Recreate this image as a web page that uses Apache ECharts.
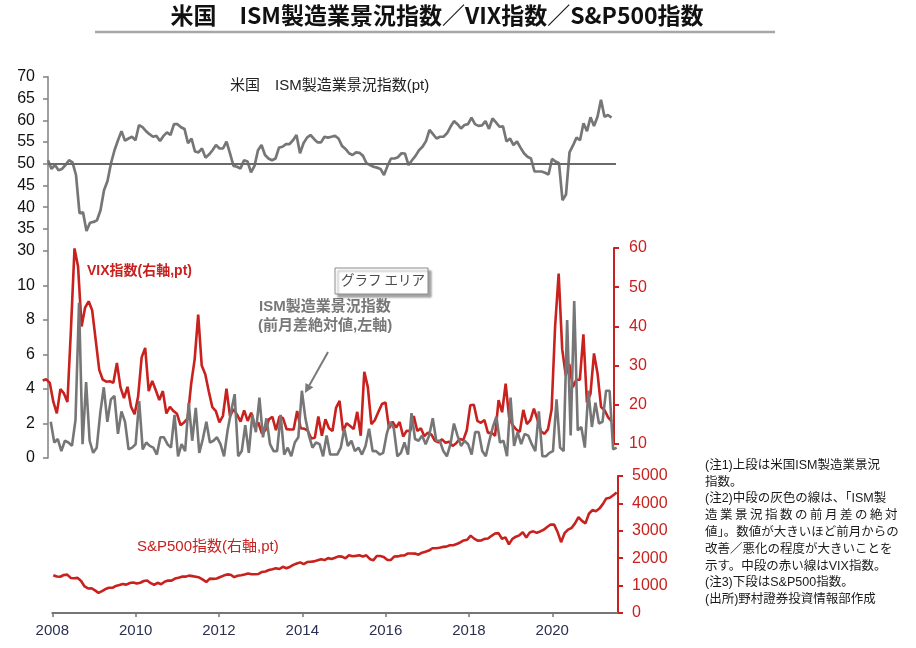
<!DOCTYPE html>
<html><head><meta charset="utf-8">
<script src="https://cdn.jsdelivr.net/npm/echarts@6/dist/echarts.min.js"></script>
<style>html,body{margin:0;padding:0;background:#fff}#c{width:916px;height:648px}</style>
</head><body><div id="c"></div>
<script>
// Monthly data, first month = 2008-01
const startMonth = '2008-01';
const yearLabels = ['2008','2010','2012','2014','2016','2018','2020'];
const yearTickMonths = [0,24,48,72,96,120,144];

// ISM manufacturing index (pt), 2008-01 .. 2021-06
const ismIndex = [
 50.8,48.8,49.7,48.5,48.8,49.7,50.8,50.3,47.4,38.6,38.8,34.5,
 36.4,36.6,37.0,39.3,43.9,46.0,50.1,53.1,55.4,57.5,55.3,55.8,
 56.2,55.4,58.9,58.4,57.5,56.8,56.2,56.4,55.2,56.4,57.2,56.6,
 59.1,59.1,58.4,58.0,54.7,55.8,52.8,52.6,53.5,51.4,52.1,53.1,
 54.3,53.5,53.5,55.1,52.4,49.5,49.3,48.9,50.8,50.5,48.0,49.5,
 53.1,54.3,52.0,51.2,50.8,51.2,53.7,53.9,54.5,54.5,55.4,56.6,
 52.4,54.7,56.0,56.6,55.7,54.9,54.9,56.2,56.0,56.2,56.4,55.8,
 54.1,53.4,52.4,52.0,52.6,52.5,51.8,50.1,49.7,49.3,49.1,48.8,
 47.4,49.5,51.2,51.2,51.5,52.4,52.3,49.7,50.8,51.8,53.1,53.9,
 55.2,57.8,56.8,55.8,56.2,56.2,57.0,58.5,59.8,59.1,58.1,58.9,
 59.1,60.6,59.1,58.7,58.8,59.8,58.0,60.4,59.5,58.5,58.6,55.1,
 55.8,54.3,55.1,53.7,52.4,51.6,51.2,48.2,48.2,48.2,47.9,47.5,
 51.1,50.5,50.1,41.6,42.9,52.6,54.2,56.0,55.4,59.3,57.5,60.7,
 58.7,60.8,64.7,60.8,61.2,60.6
];

// ISM absolute month-on-month change (pt), 2008-02 .. 2021-06
const ismAbsChange = [
 2.1,0.9,1.1,0.4,1.0,0.9,0.7,2.2,9.0,0.8,4.4,
 1.0,0.3,0.6,2.6,4.1,2.1,3.4,3.6,1.4,2.7,2.1,0.5,
 0.6,0.8,3.3,0.5,0.9,0.7,0.6,0.2,1.2,1.2,0.8,0.6,
 2.5,0.1,0.8,0.4,3.2,1.0,2.9,0.3,1.1,2.1,0.9,1.0,
 1.2,0.8,0.1,1.6,2.7,3.7,0.1,0.4,1.9,0.3,2.5,1.5,
 3.5,1.2,2.3,0.8,0.4,0.4,2.5,0.2,0.6,0.1,0.9,1.2,
 3.9,2.3,1.3,0.6,0.9,0.8,0.1,1.3,0.2,0.2,0.2,0.6,
 1.7,0.7,1.0,0.4,0.6,0.2,0.7,1.7,0.4,0.4,0.2,0.3,
 1.4,2.1,1.7,0.1,0.3,0.9,0.2,2.6,1.1,1.0,1.3,0.8,
 1.3,2.3,1.0,1.0,0.4,0.1,0.8,2.0,1.3,0.7,1.0,0.8,
 0.2,1.5,1.5,0.4,0.1,1.0,1.8,2.4,0.9,1.0,0.1,3.5,
 0.7,1.5,0.8,1.4,1.3,0.8,0.4,2.7,0.1,0.1,0.3,0.4,
 3.4,0.6,0.4,8.0,1.3,9.1,1.6,1.8,0.6,3.9,1.8,3.2,
 2.0,2.1,3.9,3.9,0.5,0.6
];

// VIX index month-end (pt), 2008-01 .. 2021-06
const vix = [
 26.2,26.5,25.6,20.8,17.8,24.0,22.9,20.7,39.4,59.9,55.3,40.0,
 44.8,46.4,44.1,36.5,28.9,26.4,25.9,26.0,25.6,30.7,24.5,21.7,
 24.6,19.5,17.6,22.1,32.1,34.5,23.5,26.1,23.7,21.2,23.5,17.8,
 19.5,18.4,17.7,14.8,15.5,16.5,25.3,31.6,43.0,30.0,27.8,23.4,
 19.4,18.4,15.5,17.2,24.1,17.1,18.9,17.5,15.7,18.6,15.9,18.0,
 14.3,15.5,12.7,13.5,16.3,16.9,13.5,17.0,16.6,13.8,13.7,13.7,
 18.4,14.0,13.9,13.4,11.4,11.6,17.0,12.1,16.3,14.0,13.3,19.2,
 21.0,13.3,15.3,14.6,13.8,18.2,12.1,28.4,24.5,15.1,16.1,18.2,
 20.2,20.6,14.0,15.7,14.2,15.6,11.9,13.4,13.3,17.1,13.3,14.0,
 12.0,12.9,12.4,10.8,10.4,11.2,10.3,10.6,9.5,10.2,11.3,11.0,
 13.5,19.9,20.0,15.9,15.4,16.1,12.8,12.9,12.1,21.2,18.1,25.4,
 16.6,14.8,13.7,13.1,18.7,15.1,16.1,19.0,16.2,13.2,12.6,13.8,
 18.8,40.1,53.5,34.2,27.5,30.4,24.5,26.4,26.4,38.0,20.6,22.8,
 33.1,28.0,19.4,18.6,16.8,15.8
];

// S&P500 month-end (pt), 2008-01 .. 2021-07
const sp500 = [
 1379,1331,1323,1386,1400,1280,1267,1283,1166,969,896,903,
 826,735,798,873,919,919,987,1021,1057,1036,1096,1115,
 1074,1104,1169,1187,1089,1031,1102,1049,1141,1183,1181,1258,
 1286,1327,1326,1364,1345,1321,1292,1219,1131,1253,1247,1258,
 1312,1366,1408,1398,1310,1362,1379,1407,1441,1412,1416,1426,
 1498,1515,1569,1598,1631,1606,1686,1633,1682,1757,1806,1848,
 1783,1859,1872,1884,1924,1960,1931,2003,1972,2018,2068,2059,
 1995,2105,2068,2086,2107,2063,2104,1972,1920,2079,2080,2044,
 1940,1932,2060,2065,2097,2099,2174,2171,2168,2126,2199,2239,
 2279,2364,2363,2384,2412,2423,2470,2472,2519,2575,2648,2674,
 2824,2714,2641,2648,2705,2718,2816,2902,2914,2712,2760,2507,
 2704,2784,2834,2946,2752,2942,2980,2926,2977,3038,3141,3231,
 3226,2954,2585,2912,3044,3100,3271,3500,3363,3270,3622,3756,
 3714,3811,3973,4181,4204,4298,4395
];

const noteLines = [
 '(注1)上段は米国ISM製造業景況',
 '指数。',
 '(注2)中段の灰色の線は、「ISM製',
 '造\u2009業\u2009景\u2009況\u2009指\u2009数\u2009の\u2009前\u2009月\u2009差\u2009の\u2009絶\u2009対',
 '値」。数値が大きいほど前月からの',
 '改善／悪化の程度が大きいことを',
 '示す。中段の赤い線はVIX指数。',
 '(注3)下段はS&P500指数。',
 '(出所)野村證券投資情報部作成'
];

const FONT = "'Liberation Sans','Noto Sans CJK JP',sans-serif";
const RED = '#C8211E';
const GRAY = '#767676';
const AXG = '#808080';

const chart = echarts.init(document.getElementById('c'), null, {renderer:'canvas'});

const hiddenX = (gi, min, max) => ({type:'value', gridIndex:gi, min, max, show:false});
const plain = (v) => String(v);

// arrow geometry for the annotation pointer
const aFrom = [328,352], aTo = [305,393];
const ux = (aTo[0]-aFrom[0]), uy = (aTo[1]-aFrom[1]);
const ul = Math.hypot(ux,uy); const nx = ux/ul, ny = uy/ul;
const hb = [aTo[0]-9*nx, aTo[1]-9*ny];

chart.setOption({
  animation:false,
  backgroundColor:'#fff',
  grid:[
    {left:48, top:76.8, width:568, height:173.8},
    {left:48, top:251, width:568.7, height:207},
    {left:42.7, top:248, width:571.3, height:196},
    {left:52.3, top:476, width:565.7, height:137}
  ],
  xAxis:[
    hiddenX(0, 0, 568/3.5),
    hiddenX(1, 0.226, 0.226+568.7/3.537),
    hiddenX(2, 0, 571.3/3.534),
    {type:'value', gridIndex:3, min:0, max:565.7/3.472, interval:24, position:'bottom',
     axisLine:{show:true, onZero:false, lineStyle:{color:'#767676', width:2}},
     axisTick:{show:true, length:4, customValues:yearTickMonths, lineStyle:{color:'#767676', width:1.5}},
     axisLabel:{show:true, customValues:yearTickMonths, margin:10, color:'#2b3050', fontSize:15, fontFamily:FONT,
       formatter:(v)=>{const k=Math.round(v/24); return (Math.abs(v-k*24)<0.01 && yearLabels[k])?yearLabels[k]:'';}},
     splitLine:{show:false}},
    {type:'value', gridIndex:3, min:-1/3.478, max:-1/3.478+565.7/3.478, show:false, position:'top'}
  ],
  yAxis:[
    {type:'value', gridIndex:0, min:30, max:70, interval:5, position:'left',
     axisLine:{show:true, onZero:false, lineStyle:{color:AXG, width:1.5}},
     axisTick:{show:true, length:5, lineStyle:{color:AXG, width:1.5}},
     axisLabel:{color:'#111', fontSize:16, fontFamily:FONT, margin:13, formatter:plain},
     splitLine:{show:false}},
    {type:'value', gridIndex:1, min:0, max:12, interval:2, position:'left',
     axisLine:{show:true, onZero:false, lineStyle:{color:AXG, width:1.5}},
     axisTick:{show:true, length:5, lineStyle:{color:AXG, width:1.5}},
     axisLabel:{color:'#111', fontSize:16, fontFamily:FONT, margin:13, formatter:(v)=> v===12?'':String(v)},
     splitLine:{show:false}},
    {type:'value', gridIndex:2, min:10, max:60, interval:10, position:'right',
     axisLine:{show:true, onZero:false, lineStyle:{color:RED, width:2}},
     axisTick:{show:true, length:5, lineStyle:{color:RED, width:2}},
     axisLabel:{color:RED, fontSize:16, fontFamily:FONT, margin:15, formatter:plain},
     splitLine:{show:false}},
    {type:'value', gridIndex:3, min:0, max:5000, interval:1000, position:'right',
     axisLine:{show:true, onZero:false, lineStyle:{color:RED, width:2}},
     axisTick:{show:true, length:5, lineStyle:{color:RED, width:2}},
     axisLabel:{color:RED, fontSize:16, fontFamily:FONT, margin:14, formatter:plain},
     splitLine:{show:false}}
  ],
  series:[
    {type:'line', name:'ISM', xAxisIndex:0, yAxisIndex:0, symbol:'none', z:3,
     data: ismIndex.map((v,i)=>[i,v]),
     lineStyle:{color:GRAY, width:2.7},
     markLine:{silent:true, symbol:['none','none'], label:{show:false},
       lineStyle:{color:'#6a6a6a', width:2, type:'solid'}, data:[{yAxis:50}]}},
    {type:'line', name:'VIX', xAxisIndex:2, yAxisIndex:2, symbol:'none', z:2, clip:false,
     data: vix.map((v,i)=>[i,v]),
     lineStyle:{color:RED, width:2.6}},
    {type:'line', name:'ISM chg', xAxisIndex:1, yAxisIndex:1, symbol:'none', z:3,
     data: ismAbsChange.map((v,i)=>[i+1,v]),
     lineStyle:{color:GRAY, width:2.6}},
    {type:'line', name:'S&P500', xAxisIndex:4, yAxisIndex:3, symbol:'none', z:3,
     data: sp500.map((v,i)=>[i,v]),
     lineStyle:{color:RED, width:2.6}}
  ],
  graphic:[
    {type:'text', x:437, y:4, style:{text:'米国　ISM製造業景況指数／VIX指数／S&P500指数', align:'center',
      font:"bold 23px 'Noto Sans CJK JP', sans-serif", fill:'#111'}},
    {type:'line', shape:{x1:95, y1:32, x2:775, y2:32}, style:{stroke:'#a6a6a6', lineWidth:2.5}},
    {type:'text', x:230, y:78, style:{text:'米国　ISM製造業景況指数(pt)', font:"15px 'Liberation Sans','Noto Sans CJK JP'", fill:'#222'}},
    {type:'text', x:87, y:264, style:{text:'VIX指数(右軸,pt)', font:"bold 14px 'Liberation Sans','Noto Sans CJK JP'", fill:RED}},
    {type:'rect', shape:{x:335, y:268, width:93, height:26}, z:10,
      style:{fill:'#fff', stroke:'#8a8a8a', lineWidth:1, shadowColor:'rgba(0,0,0,0.35)', shadowOffsetX:3, shadowOffsetY:3, shadowBlur:2}},
    {type:'text', x:341, y:273, z:11, style:{text:'グラフ エリア', font:"13.5px 'Noto Sans CJK JP'", fill:'#4a4a4a'}},
    {type:'text', x:259, y:299, style:{text:'ISM製造業景況指数', font:"bold 15px 'Liberation Sans','Noto Sans CJK JP'", fill:'#787878'}},
    {type:'text', x:258, y:318, style:{text:'(前月差絶対値,左軸)', font:"bold 15px 'Liberation Sans','Noto Sans CJK JP'", fill:'#787878'}},
    {type:'line', shape:{x1:aFrom[0], y1:aFrom[1], x2:hb[0], y2:hb[1]}, style:{stroke:'#7a7a7a', lineWidth:2}},
    {type:'polygon', shape:{points:[[aTo[0],aTo[1]],[hb[0]+4.5*ny, hb[1]-4.5*nx],[hb[0]-4.5*ny, hb[1]+4.5*nx]]}, style:{fill:'#7a7a7a'}},
    {type:'text', x:137, y:539, style:{text:'S&P500指数(右軸,pt)', font:"15px 'Liberation Sans','Noto Sans CJK JP'", fill:RED}},
    {type:'text', x:705, y:457, style:{text:noteLines.join('\n'), font:"12.5px 'Liberation Sans','Noto Sans CJK JP'", lineHeight:16.8, fill:'#1a1a1a'}}
  ]
});
</script>
</body></html>
